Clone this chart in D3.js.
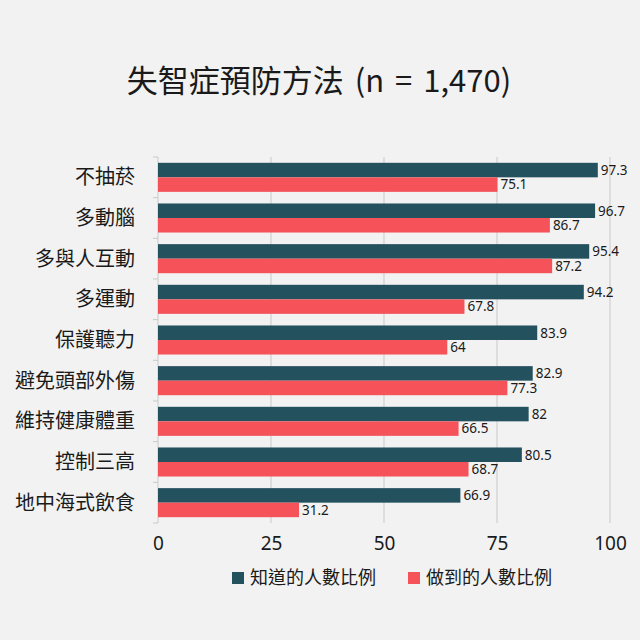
<!DOCTYPE html>
<html>
<head>
<meta charset="utf-8">
<script src="https://cdn.jsdelivr.net/npm/d3@7"></script>
<style>
  body { margin: 0; background: #f2f2f2; }
  text { font-family: "Noto Sans CJK TC", "Noto Sans", sans-serif; fill: #1a1a1a; }
</style>
</head>
<body>
<div id="chart"></div>
<script>
// data
var categories = ["不抽菸", "多動腦", "多與人互動", "多運動", "保護聽力",
  "避免頭部外傷", "維持健康體重", "控制三高", "地中海式飲食"];
var knowValues = [97.3, 96.7, 95.4, 94.2, 83.9, 82.9, 82, 80.5, 66.9];
var doValues = [75.1, 86.7, 87.2, 67.8, 64, 77.3, 66.5, 68.7, 31.2];
var seriesNames = ["知道的人數比例", "做到的人數比例"];
var xTicks = [0, 25, 50, 75, 100];

var colors = ["#23515d", "#f5525a"];

var margin = { top: 157, right: 30, bottom: 117, left: 158 },
    width = 640 - margin.left - margin.right,
    height = 640 - margin.top - margin.bottom;

var svg = d3.select("#chart")
  .append("svg")
  .attr("width", 640)
  .attr("height", 640);

svg.append("rect")
  .attr("width", 640)
  .attr("height", 640)
  .attr("fill", "#f2f2f2");

svg.append("text")
  .attr("x", 319)
  .attr("y", 92)
  .attr("text-anchor", "middle")
  .style("font-size", "31px")
  .style("word-spacing", "4px")
  .text("失智症預防方法 (n = 1,470)");

var g = svg.append("g")
  .attr("transform", "translate(" + margin.left + "," + margin.top + ")");

var x = d3.scaleLinear()
  .domain([0, 100])
  .range([0, 452]);

var y = d3.scaleBand()
  .domain(categories)
  .range([0, height])
  .paddingInner(0)
  .paddingOuter(0);

var sub = d3.scaleBand()
  .domain([0, 1])
  .range([0, y.bandwidth()])
  .paddingInner(0)
  .paddingOuter(0.4);

// gridlines
g.selectAll(".grid")
  .data(xTicks.slice(1))
  .enter()
  .append("line")
  .attr("x1", function(d) { return x(d); })
  .attr("x2", function(d) { return x(d); })
  .attr("y1", 0)
  .attr("y2", height)
  .attr("stroke", "#c9c9c9")
  .attr("stroke-width", 1);

// x tick labels
var xAxis = g.append("g")
  .attr("transform", "translate(0," + height + ")")
  .call(d3.axisBottom(x).tickValues(xTicks).tickSize(0).tickPadding(14));
xAxis.select(".domain").remove();
xAxis.selectAll("text")
  .style("font-size", "19px")
  .style("font-family", "\"Noto Sans\", sans-serif")
  .attr("fill", "#1a1a1a");

// left axis with ticks on category boundaries
g.append("line")
  .attr("x1", 0).attr("x2", 0)
  .attr("y1", 0).attr("y2", height)
  .attr("stroke", "#c9c9c9");

var bounds = categories.map(function(c) { return y(c); }).concat([height]);
g.selectAll(".ytick")
  .data(bounds)
  .enter()
  .append("line")
  .attr("x1", -5).attr("x2", 0)
  .attr("y1", function(d) { return d; })
  .attr("y2", function(d) { return d; })
  .attr("stroke", "#c9c9c9");

// category labels
g.selectAll(".cat")
  .data(categories)
  .enter()
  .append("text")
  .attr("x", -23)
  .attr("y", function(d) { return y(d) + y.bandwidth() / 2; })
  .attr("dy", "0.35em")
  .attr("text-anchor", "end")
  .style("font-size", "20px")
  .text(function(d) { return d; });

var series = [knowValues, doValues];

series.forEach(function(vals, si) {
  g.selectAll(".bar" + si)
    .data(vals)
    .enter()
    .append("rect")
    .attr("x", 0)
    .attr("y", function(d, i) { return y(categories[i]) + sub(si); })
    .attr("width", function(d) { return x(d); })
    .attr("height", sub.bandwidth())
    .attr("fill", colors[si]);

  g.selectAll(".lab" + si)
    .data(vals)
    .enter()
    .append("text")
    .attr("x", function(d) { return x(d) + 3; })
    .attr("y", function(d, i) { return y(categories[i]) + sub(si) + sub.bandwidth() / 2; })
    .attr("dy", "0.36em")
    .style("font-size", "13.5px")
    .style("font-family", "\"Noto Sans\", sans-serif")
    .text(function(d) { return d; });
});

// legend
var legendX = [232, 408];
var legend = svg.selectAll(".legend")
  .data(seriesNames)
  .enter()
  .append("g")
  .attr("transform", function(d, i) { return "translate(" + legendX[i] + ",578)"; });

legend.append("rect")
  .attr("x", 0)
  .attr("y", -6)
  .attr("width", 12)
  .attr("height", 12)
  .attr("fill", function(d, i) { return colors[i]; });

legend.append("text")
  .attr("x", 18)
  .attr("y", 0)
  .attr("dy", "0.35em")
  .style("font-size", "18px")
  .text(function(d) { return d; });
</script>
</body>
</html>
